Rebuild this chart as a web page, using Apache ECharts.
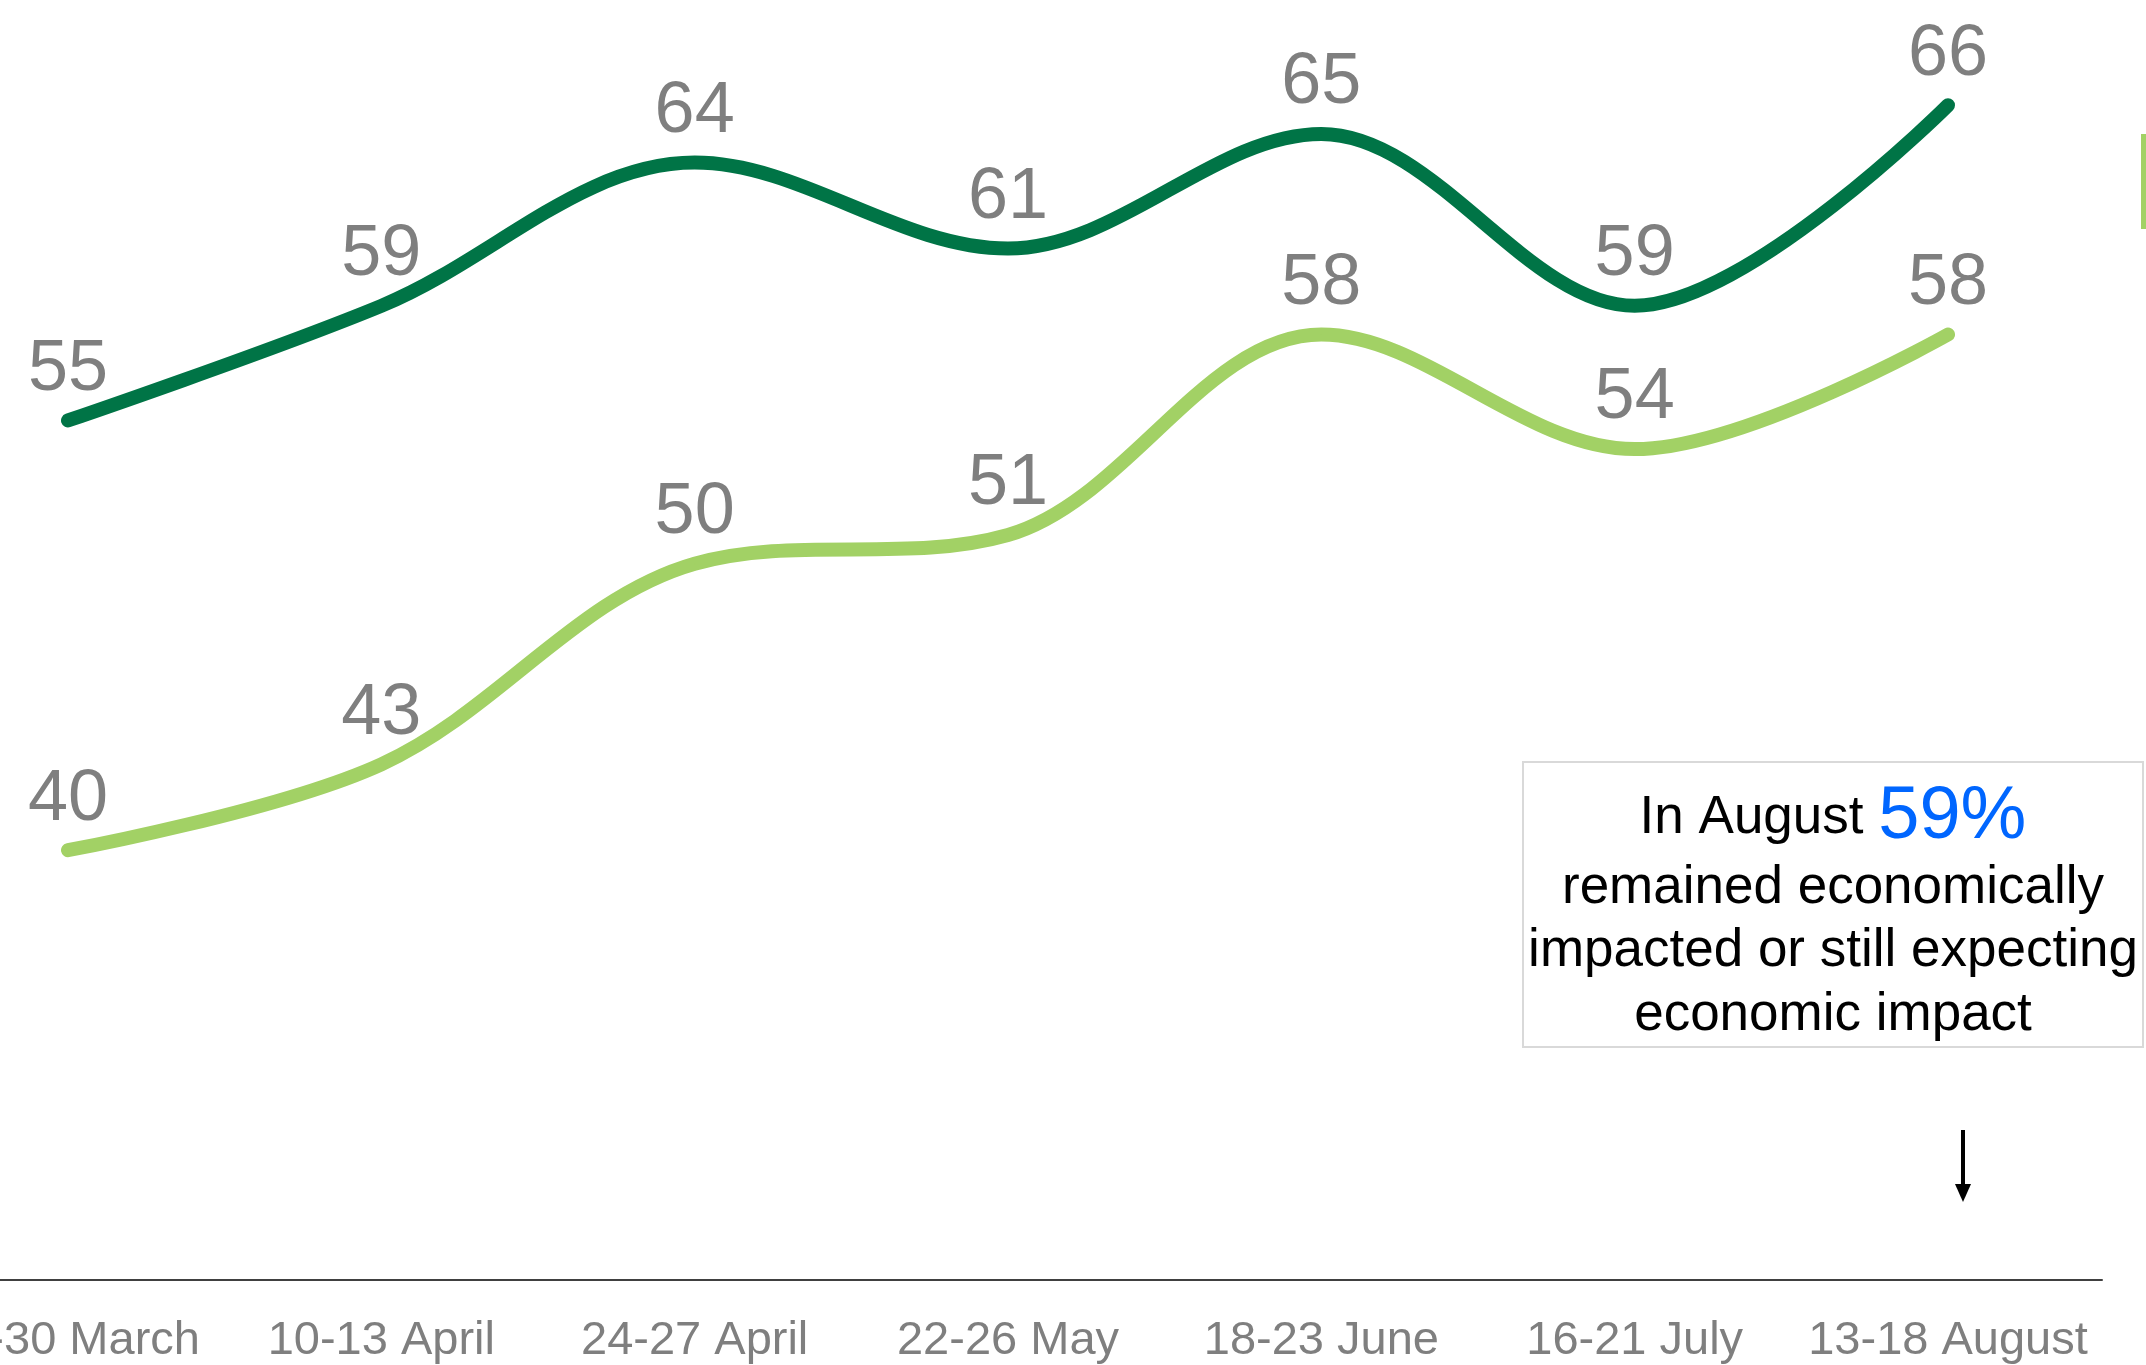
<!DOCTYPE html>
<html><head><meta charset="utf-8">
<script src="https://cdn.jsdelivr.net/npm/echarts@6/dist/echarts.min.js"></script>
<style>html,body{margin:0;padding:0;background:#fff}#c{width:2146px;height:1365px}</style>
</head><body><div id="c"></div>
<script>
const categories = ['26-30 March','10-13 April','24-27 April','22-26 May','18-23 June','16-21 July','13-18 August'];
const seriesDark = [55, 59, 64, 61, 65, 59, 66];
const seriesLight = [40, 43, 50, 51, 58, 54, 58];
const noteLines = ['remained economically', 'impacted or still expecting', 'economic impact'];
const noteHead = 'In August ';
const noteValue = '59%';

const FONT = '"Liberation Sans", Arial, sans-serif';
const chart = echarts.init(document.getElementById('c'), null, {renderer: 'canvas'});

function lineSeries(name, data, color) {
  return {
    name: name, type: 'line', data: data, smooth: 0.35,
    xAxisIndex: 0, yAxisIndex: 0,
    symbol: 'circle', symbolSize: 1, showSymbol: true,
    itemStyle: {color: color},
    lineStyle: {color: color, width: 14, cap: 'round', join: 'round'},
    label: {show: true, position: 'top', distance: 14, color: '#7f7f7f', fontSize: 72, fontFamily: FONT},
    emphasis: {disabled: true}, animation: false
  };
}

const graphics = [
  {type: 'rect', shape: {x: 1523, y: 762, width: 620, height: 285},
   style: {fill: '#fff', stroke: '#d9d9d9', lineWidth: 2}, z: 10},
  {type: 'text', x: 1833, y: 818, z: 11,
   style: {text: '{a|' + noteHead + '}{b|' + noteValue + '}', align: 'center', verticalAlign: 'middle',
     rich: {a: {fontSize: 53, fill: '#000', fontFamily: FONT}, b: {fontSize: 74, fill: '#0066ff', fontFamily: FONT}}}}
];
noteLines.forEach(function (t, i) {
  graphics.push({type: 'text', x: 1833, y: 888 + i * 63.5, z: 11,
    style: {text: t, align: 'center', verticalAlign: 'middle', fontSize: 53, fill: '#000', fontFamily: FONT}});
});
graphics.push({type: 'line', shape: {x1: 1963, y1: 1130, x2: 1963, y2: 1186}, style: {stroke: '#000', lineWidth: 4}, z: 11});
graphics.push({type: 'polygon', shape: {points: [[1955, 1184], [1971, 1184], [1963, 1202]]}, style: {fill: '#000'}, z: 11});
graphics.push({type: 'rect', shape: {x: 2141, y: 134, width: 5, height: 95}, style: {fill: '#a2d165'}, z: 11});

chart.setOption({
  animation: false,
  backgroundColor: '#fff',
  grid: [
    {left: 68, right: 198, top: 48, bottom: 85, containLabel: false, outerBoundsMode: 'none'},
    {left: 0, right: 44, top: 48, bottom: 85, containLabel: false, outerBoundsMode: 'none'}
  ],
  xAxis: [{
    gridIndex: 0, type: 'category', data: categories, boundaryGap: false,
    axisLine: {show: false},
    axisTick: {show: false},
    splitLine: {show: false},
    axisLabel: {interval: 0, color: '#7f7f7f', fontSize: 47, fontFamily: FONT, margin: 38}
  }, {
    gridIndex: 1, type: 'category', data: categories, boundaryGap: true,
    axisLine: {show: true, lineStyle: {color: '#404040', width: 2}},
    axisTick: {show: false}, axisLabel: {show: false}, splitLine: {show: false}
  }],
  yAxis: [
    {gridIndex: 0, type: 'value', min: 25, max: 68, show: false, splitLine: {show: false}},
    {gridIndex: 1, type: 'value', min: 25, max: 68, show: false, splitLine: {show: false}}
  ],
  series: [lineSeries('Dark', seriesDark, '#007446'), lineSeries('Light', seriesLight, '#a2d165')],
  graphic: graphics
});
</script>
</body></html>
